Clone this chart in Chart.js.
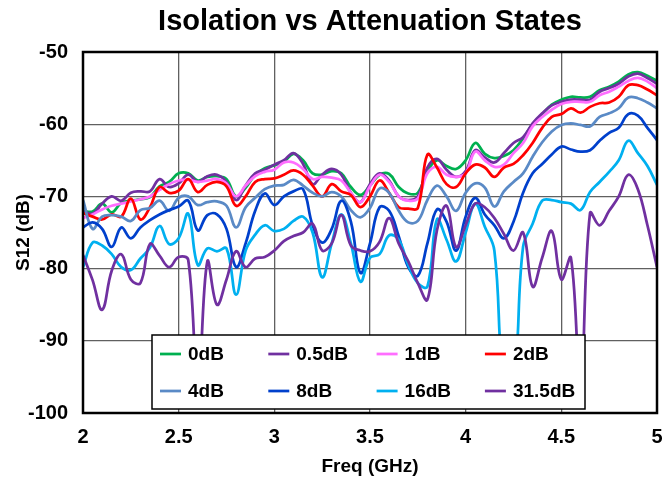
<!DOCTYPE html>
<html>
<head>
<meta charset="utf-8">
<script src="https://cdn.jsdelivr.net/npm/chart.js@4.4.1/dist/chart.umd.min.js"></script>
<style>
  html, body { margin: 0; padding: 0; background: #ffffff; }
  #wrap { width: 662px; height: 483px; }
</style>
</head>
<body>
<div id="wrap"><canvas id="chart" width="662" height="483"></canvas></div>
<script>
// Frequency points (GHz)
const freq = [
  2.00, 2.05, 2.10, 2.15, 2.20, 2.25, 2.30, 2.35, 2.40, 2.45,
  2.50, 2.55, 2.60, 2.65, 2.70, 2.75, 2.80, 2.85, 2.90, 2.95,
  3.00, 3.05, 3.10, 3.15, 3.20, 3.25, 3.30, 3.35, 3.40, 3.45,
  3.50, 3.55, 3.60, 3.65, 3.70, 3.75, 3.80, 3.85, 3.90, 3.95,
  4.00, 4.05, 4.10, 4.15, 4.20, 4.25, 4.30, 4.35, 4.40, 4.45,
  4.50, 4.55, 4.60, 4.65, 4.70, 4.75, 4.80, 4.85, 4.90, 4.95,
  5.00
];

// S12 (dB) per attenuation state
const s12_0dB = [
  -72.0, -72.1, -71.0, -72.2, -70.9, -70.6, -70.4, -70.1, -68.6, -68.0,
  -66.8, -66.8, -67.8, -67.3, -67.2, -67.6, -70.0, -68.8, -67.0, -66.1,
  -65.7, -65.2, -64.1, -65.0, -66.8, -67.0, -66.5, -66.8, -68.7, -69.8,
  -68.5, -67.0, -66.9, -68.7, -69.6, -69.5, -66.5, -65.0, -65.8, -66.2,
  -65.0, -62.6, -64.1, -64.7, -64.4, -63.6, -62.0, -60.0, -58.6, -57.3,
  -56.6, -56.2, -56.3, -56.2, -55.3, -54.8, -54.1, -53.1, -52.8, -53.3,
  -54.0
];
const s12_05dB = [
  -72.0, -72.4, -71.0, -70.0, -70.6, -69.5, -69.3, -69.3, -67.6, -68.7,
  -68.2, -67.0, -68.0, -67.2, -67.0, -68.0, -70.5, -68.5, -66.8, -66.3,
  -65.6, -65.0, -64.0, -65.5, -68.3, -67.0, -66.2, -67.0, -69.5, -70.8,
  -68.3, -66.8, -67.8, -70.0, -70.5, -70.0, -66.0, -64.8, -66.3, -67.3,
  -66.5, -63.6, -64.6, -65.3, -64.0, -62.6, -61.8, -59.9, -58.5, -57.4,
  -56.9, -56.6, -56.6, -56.6, -55.5, -55.0, -54.4, -53.4, -53.0, -53.6,
  -54.4
];
const s12_1dB = [
  -73.0, -72.5, -71.8, -71.3, -71.0, -70.7, -70.4, -70.0, -69.1, -68.3,
  -67.8, -67.7, -68.0, -67.8, -67.6, -68.2, -70.0, -68.5, -67.2, -66.6,
  -66.3, -65.3, -65.3, -66.2, -67.6, -67.3, -67.4, -67.8, -69.5, -70.8,
  -68.6, -67.0, -68.0, -70.0, -70.6, -70.3, -66.8, -65.9, -67.0, -67.3,
  -66.8, -63.8, -65.0, -65.9, -65.6, -64.0, -62.6, -60.3, -59.0, -58.0,
  -57.2, -56.9, -56.9, -56.9, -56.0, -55.5, -54.8, -54.0, -53.6, -54.1,
  -55.0
];
const s12_2dB = [
  -72.3, -72.8, -73.2, -72.5, -72.8, -70.3, -73.2, -71.5, -68.7, -69.5,
  -69.2, -67.6, -69.4, -68.4, -68.0, -68.6, -71.3, -70.0, -68.0, -67.6,
  -67.5, -67.0, -66.4, -67.0, -68.5, -70.0, -68.3, -69.3, -69.8, -71.5,
  -70.0, -67.8, -69.5, -71.5, -71.7, -71.6, -64.2, -66.0, -68.3, -68.7,
  -66.8, -65.6, -66.0, -67.3, -66.0, -65.5, -64.3, -62.6, -60.5, -59.0,
  -58.6, -57.8, -58.4, -57.6, -57.1, -57.0, -56.2, -54.6, -54.6, -55.2,
  -56.0
];
const s12_4dB = [
  -70.5, -74.5, -72.8, -72.6, -72.8, -73.4, -71.9, -71.6, -70.6, -72.0,
  -70.2, -70.0, -71.2, -70.8, -70.7, -71.3, -74.3, -71.5, -70.2, -69.0,
  -68.5, -68.4, -67.7, -68.5, -69.5, -70.0, -69.4, -70.0, -71.9, -72.9,
  -71.6, -68.9, -69.5, -72.0, -73.6, -73.4, -70.5, -68.5, -70.0, -72.0,
  -69.5, -68.2, -68.8, -71.4, -69.3, -68.0, -66.8, -64.5, -62.5, -61.0,
  -60.1, -59.9, -60.1, -60.3, -59.0, -58.5, -57.8, -56.3, -56.4, -57.0,
  -57.8
];
const s12_8dB = [
  -74.3, -73.6, -74.5, -77.0, -74.3, -75.8, -74.3, -73.3, -72.5, -71.9,
  -71.4, -70.6, -74.7, -72.6, -72.5, -74.5, -79.8, -76.5, -72.0, -69.6,
  -71.2, -70.0, -69.3, -69.0, -74.0, -76.4, -74.5, -70.6, -73.5, -80.6,
  -76.5, -71.5, -72.0, -75.5, -79.8, -81.0, -76.5, -71.8, -73.5, -77.5,
  -72.8, -70.2, -72.5, -74.0, -75.8, -73.5, -69.5, -66.8, -65.5, -64.2,
  -63.1, -63.5, -63.8, -63.6, -62.3, -61.2, -60.5, -58.6, -58.8, -60.5,
  -62.2
];
const s12_16dB = [
  -79.8, -76.4, -76.8, -78.0, -79.8, -80.2, -78.6, -77.1, -74.1, -76.6,
  -75.8, -72.4, -79.5, -77.2, -77.6, -77.2, -83.6, -77.5, -75.3, -74.0,
  -74.8, -74.5, -73.4, -72.8, -75.0, -81.2, -76.5, -72.5, -76.5, -81.8,
  -78.5, -78.0, -75.4, -76.0, -79.5, -82.0, -82.5, -73.2, -76.0, -79.0,
  -75.0, -71.0, -74.2, -77.5, -96.0, -96.0, -77.0, -73.8, -70.6, -70.5,
  -70.8, -71.0, -71.9, -69.4, -68.0, -66.6, -65.0, -62.3, -64.0, -65.8,
  -68.4
];
const s12_315dB = [
  -78.1, -81.6, -85.7, -80.3, -78.0, -81.5, -82.0, -76.6, -78.2, -79.8,
  -78.4, -78.8, -97.0, -79.0, -85.0, -81.5, -77.6, -79.8, -78.6, -78.4,
  -77.5, -76.2, -75.5, -75.0, -73.8, -77.5, -76.5, -72.6, -76.8, -77.5,
  -77.6, -76.3, -73.0, -76.5, -79.0, -82.0, -84.3, -74.7, -71.3, -77.0,
  -74.0, -71.0, -71.5, -73.0, -75.2, -77.5, -75.0, -82.5, -78.5, -74.8,
  -81.5, -78.5, -97.0, -72.3, -74.0, -72.0, -70.0, -67.0, -69.0, -74.0,
  -79.8
];

const seriesLabels = ['0dB', '0.5dB', '1dB', '2dB', '4dB', '8dB', '16dB', '31.5dB'];
const seriesValues = [s12_0dB, s12_05dB, s12_1dB, s12_2dB, s12_4dB, s12_8dB, s12_16dB, s12_315dB];
const seriesColors = ['#00B050', '#7030A0', '#FF6EFF', '#FF0000', '#5A8AC6', '#0040CC', '#00B0F0', '#7030A0'];

const yTicks = [-100, -90, -80, -70, -60, -50];
const xTicks = [2, 2.5, 3, 3.5, 4, 4.5, 5];

const FONT = "'Liberation Sans', Arial, sans-serif";

const datasets = seriesLabels.map((label, i) => ({
  label,
  data: freq.map((f, k) => ({ x: f, y: seriesValues[i][k] })),
  borderColor: seriesColors[i],
  backgroundColor: seriesColors[i],
  borderWidth: 2.75,
  pointRadius: 0,
  tension: 0.4,
  fill: false,
  order: -i
}));

// Black frame around the plot area
const plotFrame = {
  id: 'plotFrame',
  afterDatasetsDraw(chart) {
    const { ctx, chartArea: a } = chart;
    ctx.save();
    ctx.strokeStyle = '#000000';
    ctx.lineWidth = 2.5;
    ctx.strokeRect(a.left, a.top, a.right - a.left, a.bottom - a.top);
    ctx.restore();
  }
};

// Boxed legend inside the plot, two rows of four entries
const boxedLegend = {
  id: 'boxedLegend',
  afterDraw(chart) {
    const { ctx, chartArea: a } = chart;
    const left = a.left + 69, top = a.top + 283, w = 433, h = 74;
    ctx.save();
    ctx.fillStyle = '#ffffff';
    ctx.fillRect(left, top, w, h);
    ctx.strokeStyle = '#000000';
    ctx.lineWidth = 1.5;
    ctx.strokeRect(left, top, w, h);
    ctx.font = 'bold 19px ' + FONT;
    ctx.textBaseline = 'middle';
    ctx.textAlign = 'left';
    const colW = 108.3;
    const rowY = [top + 19, top + 56];
    chart.data.datasets.forEach((ds, i) => {
      const col = i % 4, row = Math.floor(i / 4);
      const x0 = left + 8 + col * colW;
      const y0 = rowY[row];
      ctx.strokeStyle = ds.borderColor;
      ctx.lineWidth = 2.75;
      ctx.beginPath();
      ctx.moveTo(x0, y0);
      ctx.lineTo(x0 + 21, y0);
      ctx.stroke();
      ctx.fillStyle = '#000000';
      ctx.fillText(ds.label, x0 + 28, y0 + 1);
    });
    ctx.restore();
  }
};

new Chart(document.getElementById('chart'), {
  type: 'line',
  data: { datasets },
  options: {
    responsive: false,
    animation: false,
    devicePixelRatio: 1,
    layout: { padding: { left: 0, right: 5, top: 0, bottom: 0 } },
    plugins: {
      legend: { display: false },
      tooltip: { enabled: false },
      title: {
        display: true,
        text: 'Isolation vs Attenuation States',
        fullSize: false,
        color: '#000000',
        font: { family: FONT, size: 29, weight: 'bold' },
        padding: { top: 5, bottom: 12.2 }
      }
    },
    scales: {
      x: {
        type: 'linear',
        min: 2,
        max: 5,
        afterBuildTicks: (s) => { s.ticks = xTicks.map(v => ({ value: v })); },
        afterFit: (s) => { s.height = 70; s.paddingLeft = 0; s.paddingRight = 0; },
        grid: { color: '#606060', lineWidth: 1.3, drawTicks: false },
        border: { display: false },
        ticks: {
          color: '#000000',
          padding: 12,
          maxRotation: 0,
          font: { family: FONT, size: 20, weight: 'bold' },
          callback: (v) => String(v)
        },
        title: {
          display: true,
          text: 'Freq (GHz)',
          color: '#000000',
          font: { family: FONT, size: 19, weight: 'bold' },
          padding: { top: 0, bottom: 4.6 }
        }
      },
      y: {
        type: 'linear',
        min: -100,
        max: -50,
        afterBuildTicks: (s) => { s.ticks = yTicks.map(v => ({ value: v })); },
        afterFit: (s) => { s.width = 83; s.paddingTop = 0; s.paddingBottom = 0; },
        grid: { color: '#606060', lineWidth: 1.3, drawTicks: false },
        border: { display: false },
        ticks: {
          color: '#000000',
          padding: 15,
          font: { family: FONT, size: 20, weight: 'bold' },
          callback: (v) => String(v)
        },
        title: {
          display: true,
          text: 'S12 (dB)',
          color: '#000000',
          font: { family: FONT, size: 19, weight: 'bold' },
          padding: { top: 12, bottom: 0 }
        }
      }
    }
  },
  plugins: [plotFrame, boxedLegend]
});
</script>
</body>
</html>
